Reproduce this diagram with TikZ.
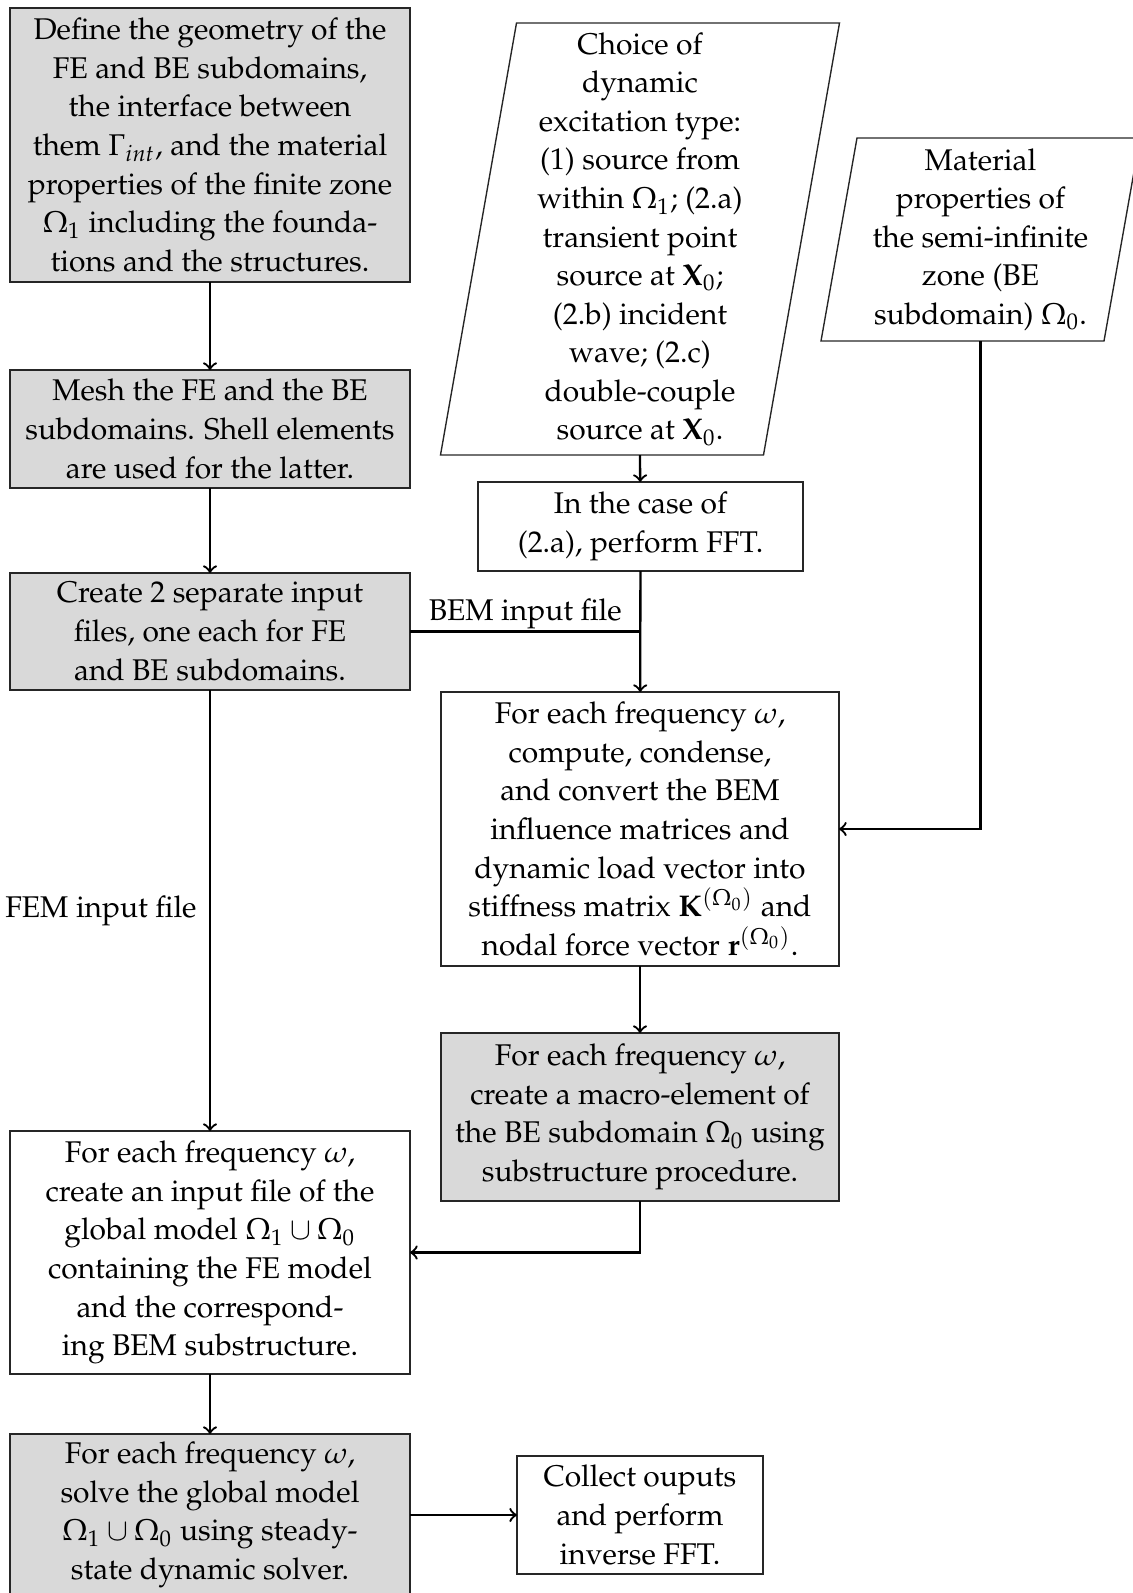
\documentclass[tikz,border=0pt]{standalone}
\usepackage[T1]{fontenc}
\usepackage{mathpazo}
\usetikzlibrary{calc}
% one drawing unit = one pixel of the final image
\newcommand\pxlen{0.32573pt}
\begin{document}
\begin{tikzpicture}[
  x=\pxlen, y=-\pxlen,
  every node/.style={font=\fontsize{9.75}{12.57}\selectfont},
  box/.style 2 args={draw=black!85, line width=0.45pt, align=center, inner sep=0pt,
    outer sep=0pt, minimum width=#1*\pxlen, minimum height=#2*\pxlen},
  shaded/.style={fill=black!15},
  frame/.style={align=center, inner sep=0pt, outer sep=0pt},
  pline/.style={draw=black!85, line width=0.45pt, line join=miter},
  conn/.style={line width=0.75pt, ->},
  lbl/.style={inner sep=0.5pt}
]
\useasboundingbox (0,0) rectangle (1132,1593);

% ---------- left column ----------
\node[box={400}{274}, shaded] (b1) at (210,145) {Define the geometry of the\\
FE and BE subdomains,\\
the interface between\\
them $\Gamma_{int}$, and the material\\
properties of the finite zone\\
$\Omega_1$ including the founda-\\
tions and the structures.};

\node[box={400}{118}, shaded] (b2) at (210,429) {Mesh the FE and the BE\\
subdomains. Shell elements\\
are used for the latter.};

\node[box={400}{117}, shaded] (b3) at (210,631.5) {Create 2 separate input\\
files, one each for FE\\
and BE subdomains.};

\node[box={400}{243}] (b4) at (210,1252.5) {For each frequency $\omega$,\\
create an input file of the\\
global model $\Omega_1 \cup \Omega_0$\\
containing the FE model\\
and the correspond-\\
ing BEM substructure.};

\node[box={400}{162}, shaded] (b5) at (210,1515) {For each frequency $\omega$,\\
solve the global model\\
$\Omega_1 \cup \Omega_0$ using steady-\\
state dynamic solver.};

\node[box={246}{118}] (col) at (640,1515) {Collect ouputs\\
and perform\\
inverse FFT.};

% ---------- right column ----------
\node[frame, minimum width=323*\pxlen, minimum height=432*\pxlen] (p1) at (640,239)
  {Choice of\\
  dynamic\\
  excitation type:\\
  (1) source from\\
  within $\Omega_1$; (2.a)\\
  transient point\\
  source at $\mathbf{X}_0$;\\
  (2.b) incident\\
  wave; (2.c)\\
  double-couple\\
  source at $\mathbf{X}_0$.};
\draw[pline] ($(p1.north west)+(38,0)$) -- ($(p1.north east)+(38,0)$)
  -- ($(p1.south east)+(-38,0)$) -- ($(p1.south west)+(-38,0)$) -- cycle;

\node[frame, minimum width=283*\pxlen, minimum height=203*\pxlen] (p2) at (980.5,239.5)
  {Material\\
  properties of\\
  the semi-infinite\\
  zone (BE\\
  subdomain) $\Omega_0$.};
\draw[pline] ($(p2.north west)+(18,0)$) -- ($(p2.north east)+(18,0)$)
  -- ($(p2.south east)+(-18,0)$) -- ($(p2.south west)+(-18,0)$) -- cycle;

\node[box={325}{89}] (fft) at (640.5,526.5) {In the case of\\
(2.a), perform FFT.};

\node[box={398}{274}] (bem) at (640,829) {For each frequency $\omega$,\\
compute, condense,\\
and convert the BEM\\
influence matrices and\\
dynamic load vector into\\
stiffness matrix $\mathbf{K}^{(\Omega_0)}$ and\\
nodal force vector $\mathbf{r}^{(\Omega_0)}$.};

\node[box={398}{168}, shaded] (mac) at (640,1117) {For each frequency $\omega$,\\
create a macro-element of\\
the BE subdomain $\Omega_0$ using\\
substructure procedure.};

% ---------- connectors ----------
\draw[conn] (b1) -- (b2);
\draw[conn] (b2) -- (b3);
\draw[conn] (b3) -- node[left, inner sep=4pt] {FEM input file} (b4);
\draw[conn] (b4) -- (b5);
\draw[conn] (b5) -- (col);

\draw[conn] (p1.south) -- (fft);
\draw[line width=0.75pt] (b3.east) -- node[above, lbl] {BEM input file} (b3.east -| fft.south);
\draw[conn] (fft) -- (bem);
\draw[conn] (p2.south) |- (bem.east);
\draw[conn] (bem) -- (mac);
\draw[conn] (mac.south) |- (b4.east);
\end{tikzpicture}
\end{document}
